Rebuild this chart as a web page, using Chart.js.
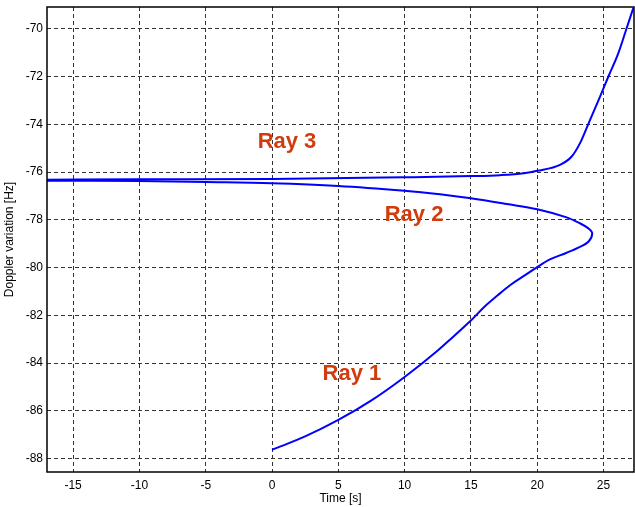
<!DOCTYPE html>
<html>
<head>
<meta charset="utf-8">
<script src="https://cdn.jsdelivr.net/npm/chart.js@4/dist/chart.umd.min.js"></script>
<style>
  html, body { margin: 0; padding: 0; background: #fff; }
  #wrap { width: 635px; height: 507px; }
</style>
</head>
<body>
<div id="wrap"><canvas id="chart" width="635" height="507"></canvas></div>
<script>
// values
// Ray 1 runs from t = 0 up to the turning point, Ray 2 goes back to the left edge
const ray12X = [0, 2.5, 5, 7.5, 10, 12.5, 15, 16, 17, 18, 19, 20, 20.96, 22.22, 23.23, 23.86, 24.15, 23.86, 23.23, 22.22, 20, 17.7, 15, 12.67, 10, 5, 0, -5, -10, -17];
const ray12Y = [-87.63, -87.07, -86.38, -85.56, -84.58, -83.47, -82.22, -81.65, -81.17, -80.72, -80.35, -79.98, -79.66, -79.38, -79.13, -78.92, -78.57, -78.36, -78.15, -77.9, -77.56, -77.34, -77.1, -76.93, -76.78, -76.58, -76.47, -76.42, -76.38, -76.36];
const ray3X = [-17, -10, 0, 10, 15, 17.2, 19, 20, 21.72, 22.6, 23.23, 23.86, 24.74, 25.37, 26.12, 26.75, 27.25];
const ray3Y = [-76.32, -76.3, -76.29, -76.22, -76.17, -76.13, -76.05, -75.95, -75.7, -75.35, -74.79, -73.98, -72.84, -72.0, -71.02, -69.97, -69.13];
const xTicks = [-15, -10, -5, 0, 5, 10, 15, 20, 25];
const yTicks = [-88, -86, -84, -82, -80, -78, -76, -74, -72, -70];
const rayLabels = ['Ray 1', 'Ray 2', 'Ray 3'];
const rayLabelX = [6.03, 10.71, 1.13];
const rayLabelY = [-84.47, -77.8, -74.74];

const toPoints = (xs, ys) => xs.map((x, i) => ({ x: x, y: ys[i] }));

const FONT = '"Liberation Sans", Arial, Helvetica, sans-serif';

const boxAndLabels = {
    id: 'boxAndLabels',
    afterDraw(chart) {
        const ctx = chart.ctx;
        const a = chart.chartArea;
        ctx.save();
        ctx.strokeStyle = '#000';
        ctx.lineWidth = 1.5;
        ctx.setLineDash([]);
        ctx.strokeRect(a.left, a.top, a.right - a.left, a.bottom - a.top);

        ctx.fillStyle = '#d23c0c';
        ctx.font = 'bold 22px ' + FONT;
        ctx.textAlign = 'center';
        ctx.textBaseline = 'middle';
        rayLabels.forEach((txt, i) => {
            const px = chart.scales.x.getPixelForValue(rayLabelX[i]);
            const py = chart.scales.y.getPixelForValue(rayLabelY[i]);
            ctx.fillText(txt, px, py);
        });
        ctx.restore();
    }
};

const gridOpts = {
    color: '#333',
    lineWidth: 1,
    drawTicks: false
};

new Chart(document.getElementById('chart'), {
    type: 'scatter',
    data: {
        datasets: [
            {
                label: 'Ray 1 / Ray 2',
                data: toPoints(ray12X, ray12Y),
                showLine: true,
                borderColor: '#0000ff',
                borderWidth: 2,
                pointRadius: 0,
                tension: 0.35,
                fill: false
            },
            {
                label: 'Ray 3',
                data: toPoints(ray3X, ray3Y),
                showLine: true,
                borderColor: '#0000ff',
                borderWidth: 2,
                pointRadius: 0,
                cubicInterpolationMode: 'monotone',
                fill: false
            }
        ]
    },
    options: {
        responsive: false,
        animation: false,
        layout: { padding: { top: 7, right: 1, left: 0, bottom: 0 } },
        plugins: {
            legend: { display: false },
            tooltip: { enabled: false }
        },
        scales: {
            x: {
                type: 'linear',
                min: -16.97,
                max: 27.3,
                afterBuildTicks: axis => { axis.ticks = xTicks.map(v => ({ value: v })); },
                afterFit: axis => { axis.height = 35; axis.paddingLeft = 0; axis.paddingRight = 0; },
                grid: gridOpts,
                border: { display: false, dash: [4, 3] },
                ticks: {
                    color: '#000',
                    padding: 6,
                    maxRotation: 0,
                    font: { family: FONT, size: 12 }
                },
                title: {
                    display: true,
                    text: 'Time [s]',
                    color: '#000',
                    padding: { top: 0, bottom: 1 },
                    font: { family: FONT, size: 12 }
                }
            },
            y: {
                type: 'linear',
                min: -88.56,
                max: -69.09,
                afterBuildTicks: axis => { axis.ticks = yTicks.map(v => ({ value: v })); },
                afterFit: axis => { axis.width = 47; axis.paddingTop = 0; axis.paddingBottom = 0; },
                grid: gridOpts,
                border: { display: false, dash: [4, 3] },
                ticks: {
                    color: '#000',
                    padding: 4,
                    font: { family: FONT, size: 12 }
                },
                title: {
                    display: true,
                    text: 'Doppler variation [Hz]',
                    color: '#000',
                    padding: { top: 2, bottom: 0 },
                    font: { family: FONT, size: 12 }
                }
            }
        }
    },
    plugins: [boxAndLabels]
});
</script>
</body>
</html>
